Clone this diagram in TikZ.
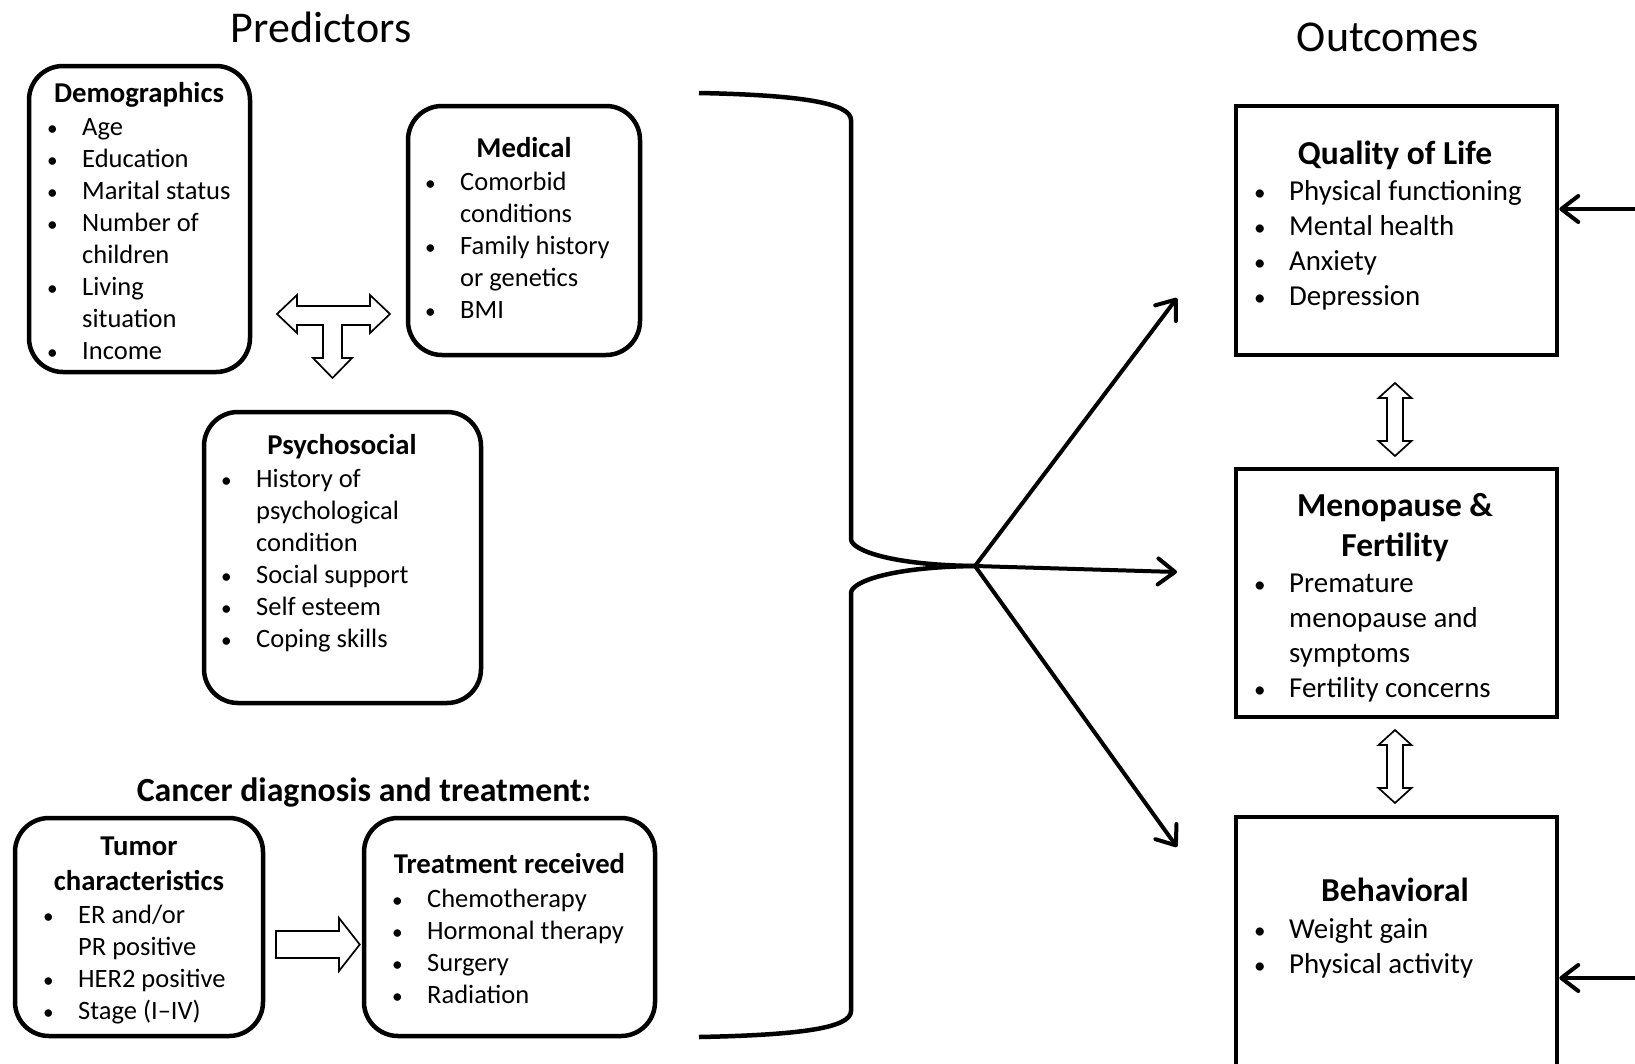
\documentclass[tikz,border=0pt]{standalone}
\usepackage{fontspec}
\setmainfont{Carlito}
\usetikzlibrary{arrows.meta,positioning,calc}

\newcommand{\bl}{\makebox[35pt][l]{\scalebox{0.8}{\textbullet}}}
\newcommand{\ct}{\makebox[35pt]{}}

\begin{document}
\begin{tikzpicture}[x=1pt, y=-1pt,
    rbox/.style={draw, line width=4.5pt, rounded corners=34pt, inner sep=0pt},
    obox/.style={draw, line width=4.5pt, inner sep=0pt},
    head/.style={font=\fontsize{44}{52}\selectfont, anchor=base, inner sep=0pt},
    ttl/.style={font=\bfseries\fontsize{28.7}{34.4}\selectfont, anchor=base, align=center, inner sep=0pt},
    lst/.style={font=\fontsize{26.5}{32}\selectfont, anchor=base west, align=left, inner sep=0pt},
    ottl/.style={font=\bfseries\fontsize{33.5}{40}\selectfont, anchor=base, align=center, inner sep=0pt},
    olst/.style={font=\fontsize{28.9}{34.7}\selectfont, anchor=base west, align=left, inner sep=0pt},
    arrow/.style={-{Straight Barb[length=17pt,width=26pt,round]}, line width=4pt},
    hollow/.style={draw, line width=1.7pt, fill=white},
    brace/.style={line width=4.5pt},
    vdarrow/.pic={\draw[hollow] (0,-36.5) -- (16.5,-21.5) -- (8,-21.5) -- (8,21.5) -- (16.5,21.5) -- (0,36.5) -- (-16.5,21.5) -- (-8,21.5) -- (-8,-21.5) -- (-16.5,-21.5) -- cycle;}
]
    \useasboundingbox (0,0) rectangle (1635,1063);
    \clip (0,0) rectangle (1635,1063);

    % Headings
    \node[head] (pred) at (321,42) {Predictors};
    \node[head] (outc) at (1388,51) {Outcomes};

    % Demographics
    \node[rbox, minimum width=221pt, minimum height=306pt] (demo) at (139.5,219) {};
    \node[ttl] (demot) at (139,102) {Demographics};
    \node[lst] (demol) at (47,359) {\bl Age\\ \bl Education\\ \bl Marital status\\ \bl Number of\\ \ct children\\ \bl Living\\ \ct situation\\ \bl Income};

    % Medical
    \node[rbox, minimum width=232pt, minimum height=249pt] (med) at (524,230.5) {};
    \node[ttl] (medt) at (524,157) {Medical};
    \node[lst] (medl) at (425,318) {\bl Comorbid\\ \ct conditions\\ \bl Family history\\ \ct or genetics\\ \bl BMI};

    % Psychosocial
    \node[rbox, minimum width=277pt, minimum height=291pt] (psy) at (342.5,557.5) {};
    \node[ttl] (psyt) at (342,454) {Psychosocial};
    \node[lst] (psyl) at (221,647) {\bl History of\\ \ct psychological\\ \ct condition\\ \bl Social support\\ \bl Self esteem\\ \bl Coping skills};

    % T-shaped hollow arrow
    \draw[hollow] (277,314) -- (297,295) -- (297,306) -- (370,306) -- (370,295) -- (390,314) -- (370,333) -- (370,325) -- (342,325) -- (342,358) -- (352,358) -- (332.5,378) -- (313,358) -- (323,358) -- (323,325) -- (297,325) -- (297,333) -- cycle;

    % Cancer diagnosis and treatment
    \node[ttl, font=\bfseries\fontsize{33.8}{40}\selectfont] (canc) at (364,801) {Cancer diagnosis and treatment:};

    \node[rbox, minimum width=248pt, minimum height=218pt] (tum) at (139,927) {};
    \node[ttl] (tumt) at (139,890) {Tumor\\characteristics};
    \node[lst] (tuml) at (43,1019) {\bl ER and/or\\ \ct PR positive\\ \bl HER2 positive\\ \bl Stage (I\textendash IV)};

    \node[rbox, minimum width=291pt, minimum height=218pt] (trt) at (509.5,927) {};
    \node[ttl] (trtt) at (509.5,873) {Treatment received};
    \node[lst] (trtl) at (392,1003) {\bl Chemotherapy\\ \bl Hormonal therapy\\ \bl Surgery\\ \bl Radiation};

    \draw[hollow] (276,931) -- (339,931) -- (339,918) -- ([xshift=-2pt]trt.west |- 0,944.5) -- (339,971) -- (339,958) -- (276,958) -- cycle;

    % Brace
    \coordinate (join) at (975,566);
    \draw[brace] (699,93) .. controls (800,95) and (851,103) .. (851,120) -- (851,539) .. controls (851,550) and (890,565) .. (join);
    \draw[brace] (join) .. controls (890,567) and (851,582) .. (851,593) -- (851,1011) .. controls (851,1028) and (800,1035) .. (699,1037);

    % Arrows to outcomes
    \coordinate (tipq) at (1177,298);
    \coordinate (tipm) at (1177,572);
    \coordinate (tipb) at (1177,847);
    \draw[arrow] (join) -- (tipq);
    \draw[arrow] (join) -- (tipm);
    \draw[arrow] (join) -- (tipb);

    % Outcomes
    \node[obox, minimum width=321pt, minimum height=249pt] (qol) at (1396.5,230.5) {};
    \node[ottl] (qolt) at (1395,164) {Quality of Life};
    \node[olst] (qoll) at (1254,305) {\bl Physical functioning\\ \bl Mental health\\ \bl Anxiety\\ \bl Depression};

    \node[obox, minimum width=321pt, minimum height=248pt] (meno) at (1396.5,593) {};
    \node[ottl] (menot) at (1395,556) {Menopause \&\\Fertility};
    \node[olst] (menol) at (1254,697) {\bl Premature\\ \ct menopause and\\ \ct symptoms\\ \bl Fertility concerns};

    \node[obox, minimum width=321pt, minimum height=283pt] (beh) at (1396.5,958.5) {};
    \node[ottl] (beht) at (1395,901) {Behavioral};
    \node[olst] (behl) at (1254,973) {\bl Weight gain\\ \bl Physical activity};

    % Links between outcomes
    \pic at (1395,419.5) {vdarrow};
    \pic at (1395,766.5) {vdarrow};

    % Incoming arrows from the right
    \coordinate (extq) at (1635,209);
    \coordinate (extb) at (1635,978);
    \draw[arrow] (extq) -- (qol.east |- extq);
    \draw[arrow] (extb) -- (beh.east |- extb);

\end{tikzpicture}
\end{document}
